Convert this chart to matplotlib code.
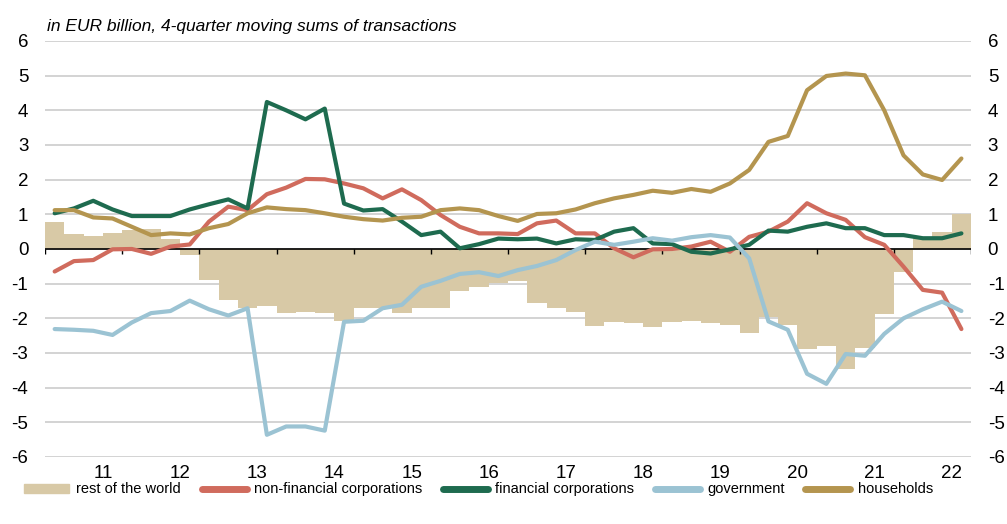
import numpy as np
import matplotlib.pyplot as plt
from matplotlib.patches import Patch
from matplotlib.lines import Line2D

plt.rcParams['font.family'] = ['Liberation Sans', 'DejaVu Sans']
plt.rcParams['axes.unicode_minus'] = False

# quarterly data, 2010Q2 .. 2022Q1 (4-quarter moving sums, EUR bn)
year_labels = ['11', '12', '13', '14', '15', '16', '17', '18', '19', '20', '21', '22']

rest_of_world = [0.79, 0.42, 0.36, 0.47, 0.55, 0.58, 0.29, -0.18, -0.90, -1.47, -1.69, -1.65,
                 -1.85, -1.82, -1.85, -2.08, -1.69, -1.69, -1.85, -1.69, -1.69, -1.21, -1.11, -0.97,
                 -0.92, -1.57, -1.71, -1.82, -2.21, -2.11, -2.14, -2.24, -2.11, -2.09, -2.14, -2.19,
                 -2.43, -1.95, -2.19, -2.88, -2.80, -3.45, -2.85, -1.88, -0.65, 0.35, 0.50, 1.02]
non_financial = [-0.65, -0.35, -0.32, -0.01, 0.0, -0.14, 0.07, 0.13, 0.79, 1.22, 1.12, 1.58,
                 1.77, 2.02, 2.01, 1.89, 1.75, 1.46, 1.72, 1.41, 0.98, 0.64, 0.45, 0.45,
                 0.43, 0.74, 0.82, 0.45, 0.45, 0.02, -0.24, -0.01, 0.0, 0.07, 0.21, -0.08,
                 0.35, 0.50, 0.79, 1.32, 1.03, 0.84, 0.34, 0.12, -0.51, -1.18, -1.26, -2.31]
financial = [1.03, 1.17, 1.39, 1.14, 0.95, 0.95, 0.95, 1.14, 1.29, 1.43, 1.17, 4.24,
             4.00, 3.74, 4.05, 1.31, 1.11, 1.15, 0.79, 0.40, 0.50, 0.02, 0.14, 0.30,
             0.28, 0.30, 0.16, 0.28, 0.26, 0.50, 0.60, 0.16, 0.14, -0.08, -0.13, -0.01,
             0.12, 0.53, 0.50, 0.64, 0.74, 0.60, 0.60, 0.40, 0.40, 0.31, 0.31, 0.45]
government = [-2.31, -2.33, -2.36, -2.48, -2.12, -1.85, -1.79, -1.49, -1.74, -1.92, -1.71, -5.36,
              -5.12, -5.12, -5.24, -2.10, -2.07, -1.71, -1.61, -1.09, -0.92, -0.72, -0.67, -0.78,
              -0.61, -0.49, -0.32, -0.03, 0.21, 0.12, 0.21, 0.31, 0.24, 0.34, 0.40, 0.33,
              -0.27, -2.09, -2.33, -3.60, -3.89, -3.03, -3.08, -2.45, -2.00, -1.74, -1.52, -1.79]
households = [1.12, 1.12, 0.91, 0.88, 0.64, 0.40, 0.45, 0.42, 0.60, 0.72, 1.03, 1.20,
              1.15, 1.12, 1.03, 0.93, 0.86, 0.82, 0.90, 0.93, 1.12, 1.17, 1.12, 0.95,
              0.81, 1.01, 1.03, 1.14, 1.32, 1.46, 1.56, 1.68, 1.62, 1.73, 1.65, 1.89,
              2.28, 3.09, 3.26, 4.58, 4.99, 5.06, 5.01, 4.00, 2.70, 2.15, 1.99, 2.61]

c_row = '#d8c9a6'
c_nfc = '#d06b5d'
c_fc = '#1e6b4f'
c_gov = '#9bc3d3'
c_hh = '#b4954f'

x = np.arange(len(rest_of_world))

fig = plt.figure(figsize=(10.07, 5.24), dpi=100)
ax = fig.add_axes([0.0447, 0.1279, 0.9196, 0.7939])

ax.bar(x, rest_of_world, width=1.0, color=c_row, zorder=2)
lw = 3.0
for vals, col in [(non_financial, c_nfc), (financial, c_fc), (government, c_gov), (households, c_hh)]:
    ax.plot(x, vals, color=col, lw=lw, zorder=4, solid_capstyle='round', solid_joinstyle='round')

ax.axhline(0, color='black', lw=1.2, zorder=3)
# small tick marks hanging from the zero line
tick_pos = np.arange(len(year_labels) + 1) * 4 - 0.5
ax.vlines(tick_pos, -0.15, 0, color='black', lw=1.0, zorder=3)

ax.set_xlim(-0.5, len(x) - 0.5)
ax.set_ylim(-6, 6)
ax.set_yticks(range(-6, 7))
ax.yaxis.grid(True, color='#cccccc', lw=1.2, zorder=0)
ax.set_axisbelow(True)
ax.set_xticks(np.arange(len(year_labels)) * 4 + 2.5, year_labels)
ax.tick_params(axis='x', length=0, pad=6, labelsize=13.5)
ax.tick_params(axis='y', length=0, pad=12, labelsize=13.5, labelright=True)
for s in ax.spines.values():
    s.set_visible(False)

fig.text(0.047, 0.95, 'in EUR billion, 4-quarter moving sums of transactions',
         style='italic', fontsize=12.5, va='center', ha='left')

handles = [Patch(color=c_row),
           Line2D([], [], color=c_nfc, lw=5, solid_capstyle='round'),
           Line2D([], [], color=c_fc, lw=5, solid_capstyle='round'),
           Line2D([], [], color=c_gov, lw=5, solid_capstyle='round'),
           Line2D([], [], color=c_hh, lw=5, solid_capstyle='round')]
labels = ['rest of the world', 'non-financial corporations', 'financial corporations',
          'government', 'households']
fig.legend(handles, labels, ncol=5, loc='center', bbox_to_anchor=(0.475, 0.066),
           frameon=False, fontsize=10.5, handlelength=3.1, handleheight=0.55,
           handletextpad=0.5, columnspacing=1.4, borderpad=0.2)

fig.savefig('out.png', dpi=100)
